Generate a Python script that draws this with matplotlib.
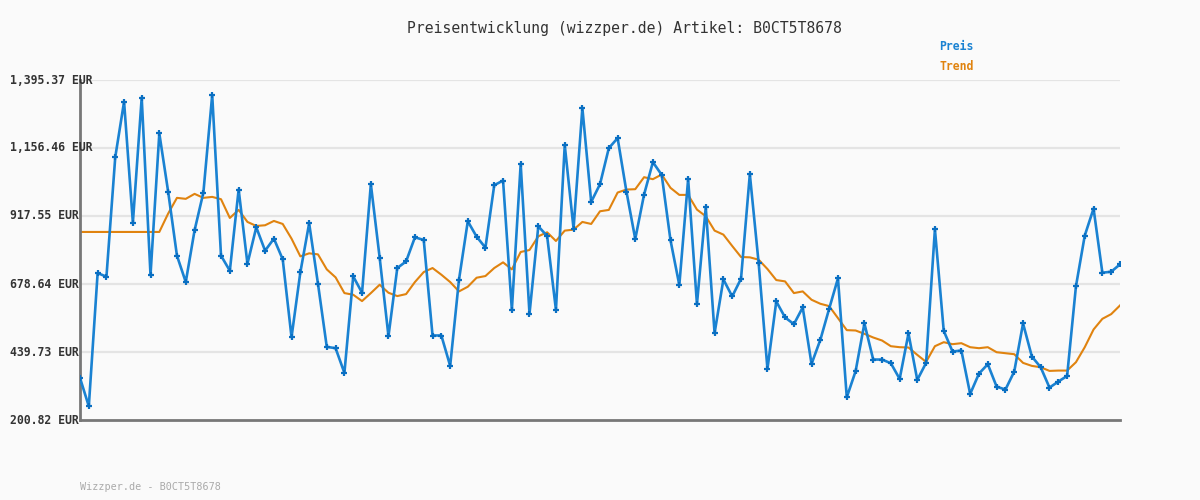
import matplotlib
matplotlib.use("Agg")
import matplotlib.pyplot as plt
import numpy as np

# price values (EUR)
preis = [348.7, 249.0, 717.2, 704.2, 1124.3, 1319.1, 894.3, 1333.2, 710.1, 1207.6,
         1003.4, 778.2, 685.5, 867.3, 999.9, 1342.6, 778.2, 725.3, 1010.5, 749.9,
         877.9, 795.7, 838.0, 765.3, 491.8, 719.5, 892.0, 679.6, 457.8, 453.1,
         366.3, 705.4, 647.9, 1029.3, 771.1, 495.4, 734.7, 758.1, 842.7, 833.3,
         497.7, 497.7, 391.0, 693.7, 899.0, 845.0, 806.3, 1025.7, 1042.2, 588.1,
         1099.7, 574.0, 881.4, 847.4, 588.1, 1166.6, 873.2, 1296.8, 967.1, 1029.3,
         1156.0, 1191.2, 1003.4, 836.8, 992.8, 1106.7, 1062.1, 832.1, 674.9, 1046.9,
         608.0, 948.3, 505.9, 694.8, 635.0, 697.2, 1064.3, 752.3, 380.4, 617.4,
         561.1, 537.6, 596.3, 397.8, 482.5, 591.6, 698.4, 280.6, 372.2, 540.0,
         413.2, 413.2, 400.3, 345.2, 504.8, 341.7, 401.5, 870.9, 514.1, 441.4,
         444.9, 292.4, 363.9, 396.8, 318.2, 307.6, 371.0, 540.0, 423.8, 386.2,
         314.6, 335.8, 355.7, 670.2, 848.6, 943.6, 718.3, 721.8, 747.6]

trend = [861.5, 861.5, 861.5, 861.5, 861.5, 861.5, 861.5, 861.5, 861.5, 861.5,
         926.0, 981.3, 977.8, 995.3, 981.3, 984.7, 976.5, 910.7, 939.0, 896.7,
         882.6, 885.0, 900.2, 889.6, 838.0, 775.8, 786.4, 782.8, 730.0, 701.9,
         646.7, 640.9, 618.6, 646.7, 676.1, 647.9, 636.2, 643.2, 685.5, 720.6,
         734.7, 711.3, 685.5, 652.6, 669.0, 700.7, 706.6, 734.7, 754.7, 730.0,
         791.1, 798.1, 846.2, 860.3, 829.8, 866.2, 869.7, 896.7, 889.6, 934.2,
         938.9, 1000.0, 1010.5, 1011.7, 1053.9, 1046.9, 1063.3, 1016.4, 991.7, 991.7,
         940.1, 916.6, 866.2, 852.1, 812.2, 773.5, 772.3, 764.1, 731.2, 692.5,
         687.8, 646.7, 652.6, 623.3, 609.2, 601.0, 558.8, 516.5, 515.3, 503.6,
         490.7, 480.1, 460.1, 456.6, 455.5, 429.6, 405.0, 460.1, 474.2, 467.2,
         470.7, 456.6, 453.1, 456.6, 439.0, 435.5, 432.0, 401.5, 390.9, 386.2,
         373.3, 374.5, 374.5, 403.8, 456.6, 518.8, 556.3, 572.8, 603.3]

y_ticks = [200.82, 439.73, 678.64, 917.55, 1156.46, 1395.37]
y_labels = ["200.82 EUR", "439.73 EUR", "678.64 EUR", "917.55 EUR", "1,156.46 EUR", "1,395.37 EUR"]

title = "Preisentwicklung (wizzper.de) Artikel: B0CT5T8678"
footer = "Wizzper.de - B0CT5T8678"

bg = "#fafafa"
blue = "#1a82d2"
orange = "#e0830f"
mono = ["DejaVu Sans Mono"]

fig = plt.figure(figsize=(12, 5), dpi=100, facecolor=bg)
ax = fig.add_axes([80 / 1200, 80 / 500, 1040 / 1200, 340 / 500], facecolor=bg)

x = np.arange(len(preis))

for t in y_ticks[1:]:
    ax.axhline(t, color="#e4e4e4", lw=1.6, zorder=0)

ax.plot(x, trend, color=orange, lw=1.5, zorder=2)
ax.plot(x, preis, color=blue, lw=1.9, marker="+", ms=4, mew=1.6,
        mfc="#0a6fc2", mec="#0a6fc2", zorder=3)

ax.set_xlim(0, len(preis) - 1)
ax.set_ylim(y_ticks[0], y_ticks[-1])
ax.set_xticks([])
ax.set_yticks([])
for s in ["top", "right"]:
    ax.spines[s].set_visible(False)
for s in ["left", "bottom"]:
    ax.spines[s].set_color("#777777")
    ax.spines[s].set_linewidth(2)

# y labels, left aligned at the image edge
for t, lab in zip(y_ticks, y_labels):
    ypix = 420 - (t - y_ticks[0]) / (y_ticks[-1] - y_ticks[0]) * 340
    fig.text(10 / 1200, 1 - ypix / 500, lab, ha="left", va="center",
             family=mono, fontsize=8.3, fontweight="bold", color="#333333")

fig.text(624 / 1200, 1 - 28 / 500, title, ha="center", va="center",
         family=mono, fontsize=10.6, color="#333333")
fig.text(939 / 1200, 1 - 47 / 500, "Preis", ha="left", va="center",
         family=mono, fontsize=8.3, fontweight="bold", color=blue)
fig.text(939 / 1200, 1 - 67 / 500, "Trend", ha="left", va="center",
         family=mono, fontsize=8.3, fontweight="bold", color=orange)
fig.text(80 / 1200, 1 - 487 / 500, footer, ha="left", va="center",
         family=mono, fontsize=7.3, color="#aaaaaa")

fig.savefig("out.png", dpi=100, facecolor=bg)
